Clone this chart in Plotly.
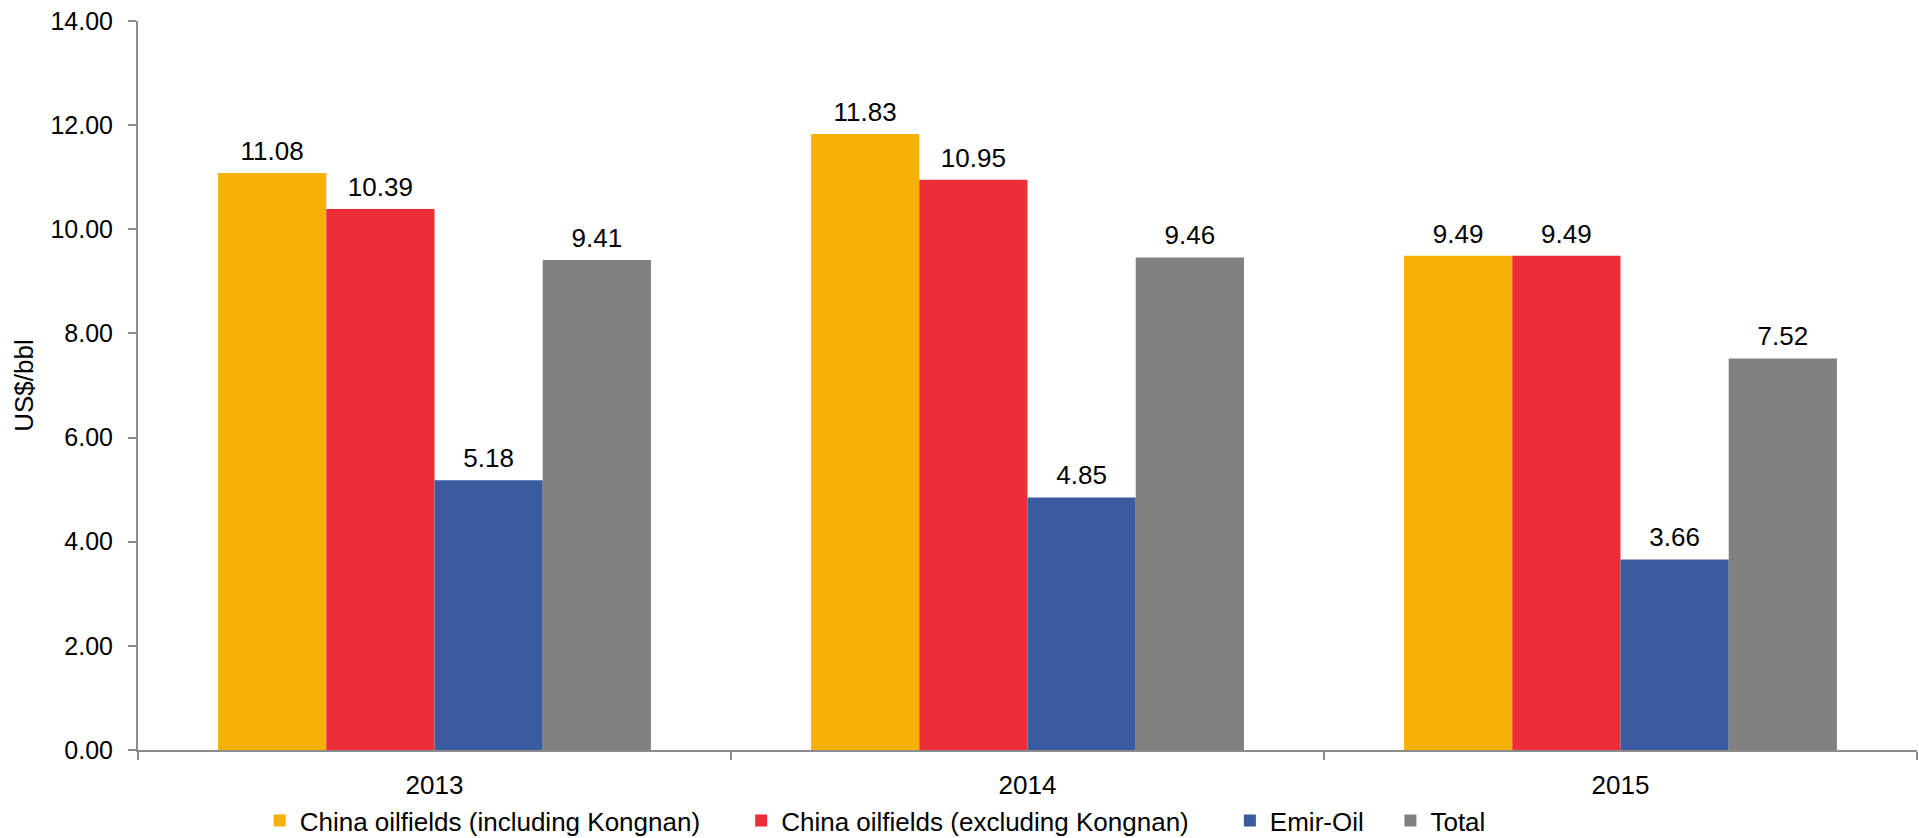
import plotly.graph_objects as go

years = ["2013", "2014", "2015"]
series_names = [
    "China oilfields (including Kongnan)",
    "China oilfields (excluding Kongnan)",
    "Emir-Oil",
    "Total",
]
china_incl = [11.08, 11.83, 9.49]
china_excl = [10.39, 10.95, 9.49]
emir_oil = [5.18, 4.85, 3.66]
total = [9.41, 9.46, 7.52]
y_ticks = [0, 2, 4, 6, 8, 10, 12, 14]

colors = ["#F7B005", "#EE2E36", "#3A5BA0", "#808080"]
values = [china_incl, china_excl, emir_oil, total]
NB = "\u00a0"
pad = [NB * 5, NB * 5, NB * 3, ""]

FONT = "Liberation Sans, Arial, sans-serif"

fig = go.Figure()
for i, (name, vals, col) in enumerate(zip(series_names, values, colors)):
    fig.add_trace(go.Bar(
        x=years, y=vals, name=name + pad[i], marker=dict(color=col, line=dict(width=0)),
        offsetgroup=str(i), alignmentgroup="a", hoverinfo="x+y",
    ))
for i, vals in enumerate(values):
    fig.add_trace(go.Scatter(
        x=years, y=vals, mode="markers+text", text=[f"{v:.2f}" for v in vals],
        textposition="top center", textfont=dict(size=26, color="#000000", family=FONT),
        marker=dict(size=9, color="rgba(0,0,0,0)"), offsetgroup=str(i), alignmentgroup="a",
        showlegend=False, hoverinfo="skip", cliponaxis=False,
    ))

fig.update_layout(
    width=1919, height=838,
    margin=dict(l=138, r=2, t=21, b=88, autoexpand=False),
    barmode="group", scattermode="group", bargap=0.27, bargroupgap=0,
    plot_bgcolor="white", paper_bgcolor="white",
    font=dict(family=FONT, size=26, color="#000000"),
    showlegend=True,
    legend=dict(orientation="h", x=0.0684, xanchor="left", y=-0.0645, yanchor="top",
                font=dict(size=26, family=FONT, color="#000000"), itemclick=False,
                traceorder="normal", bgcolor="rgba(0,0,0,0)"),
    xaxis=dict(
        type="category", showline=True, linecolor="#8C8C8C", linewidth=2,
        ticks="outside", tickson="boundaries", ticklen=8, tickwidth=2, tickcolor="#8C8C8C",
        tickfont=dict(size=26, family=FONT), showgrid=False, zeroline=False,
        ticklabelstandoff=11,
    ),
    yaxis=dict(
        range=[0, 14], tickvals=y_ticks, tickformat=".2f", showline=True,
        linecolor="#8C8C8C", linewidth=2, ticks="outside", ticklen=8, tickwidth=2,
        tickcolor="#8C8C8C", tickfont=dict(size=25, family=FONT), showgrid=False,
        zeroline=False, ticklabelstandoff=10,
        title=dict(text="US$/bbl", font=dict(size=26, family=FONT), standoff=9),
    ),
)

fig.write_html("out.html")
